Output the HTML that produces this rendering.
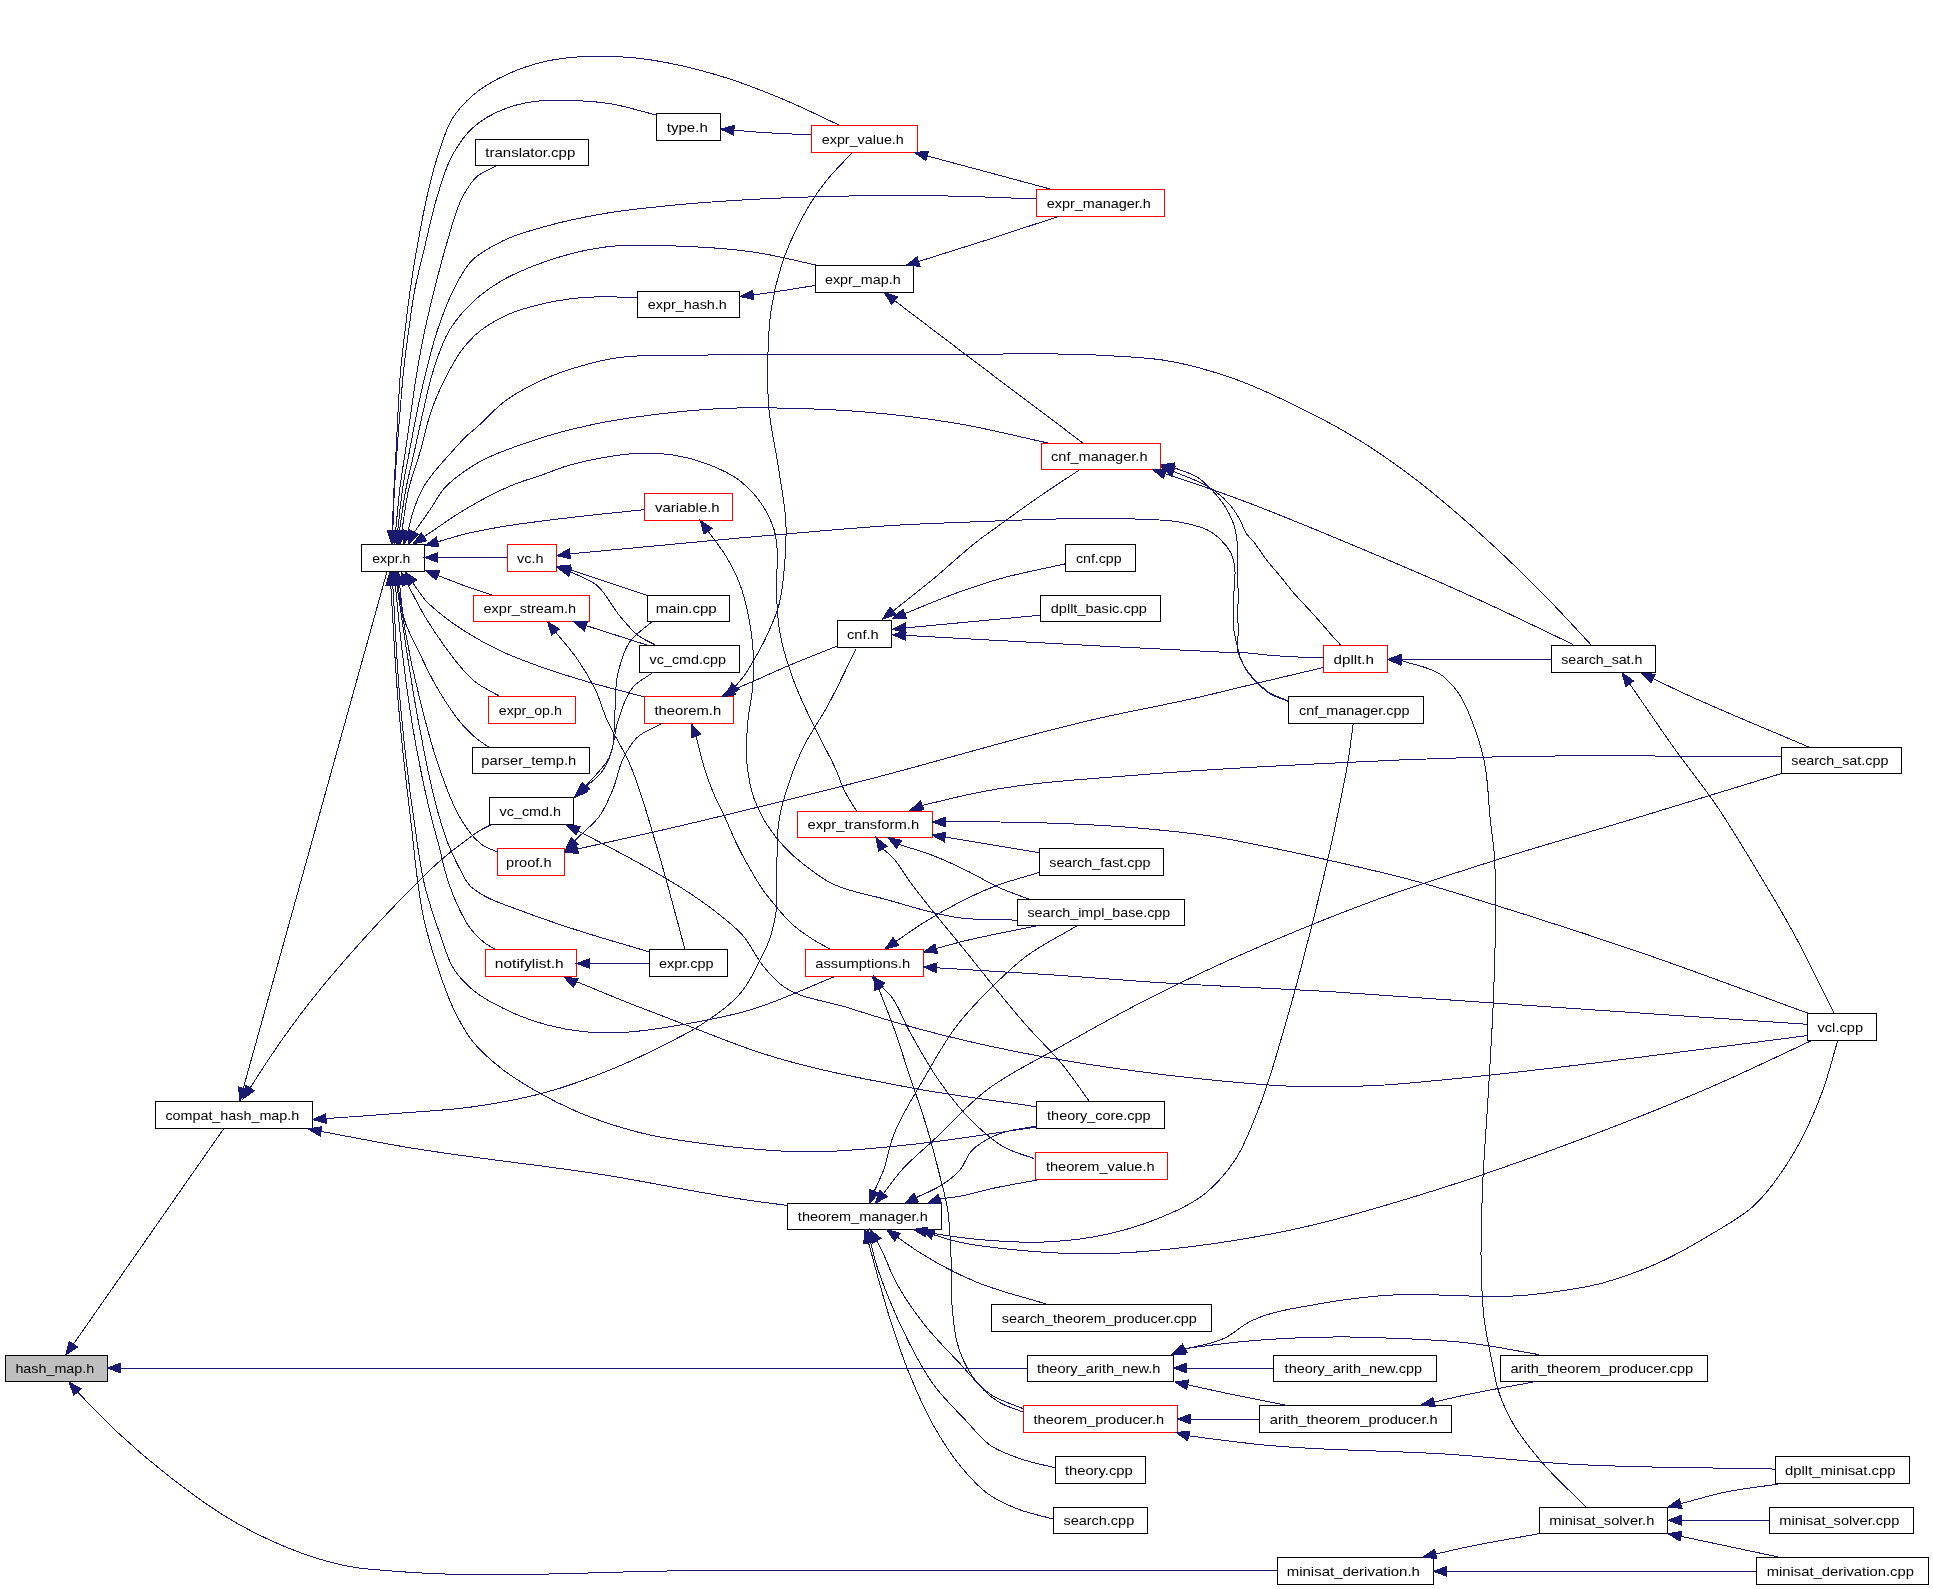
<!DOCTYPE html><html><head><meta charset="utf-8"><style>html,body{margin:0;padding:0;background:#fff;}svg{display:block;}text{font-family:"Liberation Sans",sans-serif;font-size:13px;fill:#000;}</style></head><body>
<svg width="1933" height="1589" viewBox="0 0 1933 1589">
<rect x="0" y="0" width="1933" height="1589" fill="#fff"/>
<rect x="5.5" y="1355.5" width="102" height="26" fill="#bfbfbf" stroke="#000" stroke-width="1"/>
<rect x="155.5" y="1101.5" width="157" height="27" fill="#fff" stroke="#000" stroke-width="1"/>
<rect x="361.5" y="544.5" width="63" height="27" fill="#fff" stroke="#000" stroke-width="1"/>
<rect x="475.5" y="139.5" width="113" height="26" fill="#fff" stroke="#000" stroke-width="1"/>
<rect x="656.5" y="113.5" width="64" height="27" fill="#fff" stroke="#000" stroke-width="1"/>
<rect x="811.5" y="125.5" width="106" height="27" fill="#fff" stroke="#ff0000" stroke-width="1"/>
<rect x="1036.5" y="189.5" width="128" height="27" fill="#fff" stroke="#ff0000" stroke-width="1"/>
<rect x="815.5" y="265.5" width="98" height="27" fill="#fff" stroke="#000" stroke-width="1"/>
<rect x="637.5" y="291.5" width="102" height="26" fill="#fff" stroke="#000" stroke-width="1"/>
<rect x="1041.5" y="443.5" width="119" height="26" fill="#fff" stroke="#ff0000" stroke-width="1"/>
<rect x="644.5" y="493.5" width="88" height="27" fill="#fff" stroke="#ff0000" stroke-width="1"/>
<rect x="507.5" y="544.5" width="49" height="27" fill="#fff" stroke="#ff0000" stroke-width="1"/>
<rect x="473.5" y="595.5" width="116" height="26" fill="#fff" stroke="#ff0000" stroke-width="1"/>
<rect x="647.5" y="595.5" width="82" height="26" fill="#fff" stroke="#000" stroke-width="1"/>
<rect x="1065.5" y="544.5" width="70" height="27" fill="#fff" stroke="#000" stroke-width="1"/>
<rect x="1040.5" y="595.5" width="120" height="26" fill="#fff" stroke="#000" stroke-width="1"/>
<rect x="837.5" y="620.5" width="54" height="27" fill="#fff" stroke="#000" stroke-width="1"/>
<rect x="639.5" y="645.5" width="100" height="27" fill="#fff" stroke="#000" stroke-width="1"/>
<rect x="1323.5" y="645.5" width="64" height="27" fill="#fff" stroke="#ff0000" stroke-width="1"/>
<rect x="1551.5" y="645.5" width="104" height="27" fill="#fff" stroke="#000" stroke-width="1"/>
<rect x="644.5" y="696.5" width="89" height="27" fill="#fff" stroke="#ff0000" stroke-width="1"/>
<rect x="488.5" y="696.5" width="87" height="27" fill="#fff" stroke="#ff0000" stroke-width="1"/>
<rect x="1288.5" y="696.5" width="135" height="27" fill="#fff" stroke="#000" stroke-width="1"/>
<rect x="472.5" y="747.5" width="117" height="26" fill="#fff" stroke="#000" stroke-width="1"/>
<rect x="1781.5" y="747.5" width="120" height="26" fill="#fff" stroke="#000" stroke-width="1"/>
<rect x="489.5" y="797.5" width="84" height="27" fill="#fff" stroke="#000" stroke-width="1"/>
<rect x="797.5" y="811.5" width="135" height="26" fill="#fff" stroke="#ff0000" stroke-width="1"/>
<rect x="497.5" y="848.5" width="67" height="27" fill="#fff" stroke="#ff0000" stroke-width="1"/>
<rect x="1039.5" y="848.5" width="124" height="27" fill="#fff" stroke="#000" stroke-width="1"/>
<rect x="1017.5" y="899.5" width="167" height="26" fill="#fff" stroke="#000" stroke-width="1"/>
<rect x="485.5" y="949.5" width="91" height="27" fill="#fff" stroke="#ff0000" stroke-width="1"/>
<rect x="649.5" y="949.5" width="78" height="27" fill="#fff" stroke="#000" stroke-width="1"/>
<rect x="805.5" y="949.5" width="118" height="27" fill="#fff" stroke="#ff0000" stroke-width="1"/>
<rect x="1807.5" y="1013.5" width="69" height="27" fill="#fff" stroke="#000" stroke-width="1"/>
<rect x="1036.5" y="1101.5" width="128" height="27" fill="#fff" stroke="#000" stroke-width="1"/>
<rect x="1035.5" y="1152.5" width="132" height="27" fill="#fff" stroke="#ff0000" stroke-width="1"/>
<rect x="787.5" y="1203.5" width="154" height="26" fill="#fff" stroke="#000" stroke-width="1"/>
<rect x="991.5" y="1304.5" width="220" height="27" fill="#fff" stroke="#000" stroke-width="1"/>
<rect x="1027.5" y="1355.5" width="146" height="26" fill="#fff" stroke="#000" stroke-width="1"/>
<rect x="1273.5" y="1355.5" width="163" height="26" fill="#fff" stroke="#000" stroke-width="1"/>
<rect x="1500.5" y="1355.5" width="207" height="26" fill="#fff" stroke="#000" stroke-width="1"/>
<rect x="1023.5" y="1405.5" width="154" height="27" fill="#fff" stroke="#ff0000" stroke-width="1"/>
<rect x="1259.5" y="1405.5" width="192" height="27" fill="#fff" stroke="#000" stroke-width="1"/>
<rect x="1055.5" y="1456.5" width="90" height="27" fill="#fff" stroke="#000" stroke-width="1"/>
<rect x="1775.5" y="1456.5" width="134" height="27" fill="#fff" stroke="#000" stroke-width="1"/>
<rect x="1053.5" y="1507.5" width="94" height="26" fill="#fff" stroke="#000" stroke-width="1"/>
<rect x="1539.5" y="1507.5" width="128" height="26" fill="#fff" stroke="#000" stroke-width="1"/>
<rect x="1769.5" y="1507.5" width="144" height="26" fill="#fff" stroke="#000" stroke-width="1"/>
<rect x="1277.5" y="1557.5" width="156" height="27" fill="#fff" stroke="#000" stroke-width="1"/>
<rect x="1756.5" y="1557.5" width="172" height="27" fill="#fff" stroke="#000" stroke-width="1"/>
<path fill="none" stroke="#191970" stroke-width="1" shape-rendering="crispEdges" d="M223.5,1129.0 L73.4,1344.2 M1027.0,1368.0 C968.7,1368.0 910.3,1368.0 852.0,1368.0 C701.3,1368.0 550.7,1368.0 400.0,1368.0 C306.9,1368.0 213.8,1368.0 120.7,1368.0 M1277.0,1571.0 C1084.7,1570.9 892.3,1570.7 700.0,1570.7 C596.1,1570.7 491.7,1580.0 388.2,1570.7 C376.8,1569.7 365.3,1569.2 354.1,1567.3 C340.2,1565.0 326.5,1561.4 313.1,1557.1 C301.5,1553.4 290.2,1548.9 279.0,1544.1 C263.8,1537.6 248.9,1530.1 234.6,1521.9 C210.5,1508.2 188.1,1491.2 166.3,1474.1 C149.8,1461.2 133.8,1447.5 118.5,1433.2 C104.3,1420.0 91.2,1405.8 77.5,1392.1 M386.9,572.0 L243.3,1088.3 M492.6,824.1 C488.8,826.0 484.8,827.7 481.1,829.8 C475.3,833.1 470.1,837.3 464.7,841.3 C456.9,847.0 449.2,853.0 441.8,859.3 C429.8,869.5 418.9,881.1 407.7,892.3 C389.9,910.2 372.6,928.8 355.8,947.7 C337.9,967.9 320.2,988.5 303.8,1010.0 C291.8,1025.7 280.2,1041.9 269.2,1058.4 C262.7,1068.1 256.5,1078.1 250.2,1087.9 M855.8,649.4 C846.2,668.5 837.4,688.1 827.1,706.8 C819.5,720.6 810.0,733.4 803.2,747.5 C797.6,759.1 792.8,771.1 788.8,783.3 C784.9,795.0 781.3,807.1 779.2,819.2 C776.5,834.9 777.4,851.1 776.8,867.1 C776.2,883.0 778.2,899.3 775.6,914.9 C774.2,923.0 772.4,931.2 769.7,938.9 C767.2,946.2 763.6,953.2 760.1,960.1 C754.9,970.4 749.9,981.2 742.9,990.2 C732.2,1004.0 716.6,1014.5 701.9,1024.3 C690.1,1032.2 677.0,1038.3 664.3,1044.8 C647.5,1053.4 630.5,1061.5 613.1,1068.7 C590.8,1077.9 568.0,1086.3 544.8,1092.6 C522.5,1098.7 499.5,1102.9 476.6,1106.3 C450.4,1110.2 423.8,1111.3 397.3,1113.4 C373.6,1115.3 349.8,1116.9 326.1,1118.6 M787.3,1205.4 C778.2,1204.2 769.1,1203.1 760.0,1201.9 C708.0,1194.9 656.6,1183.3 604.8,1175.0 C536.7,1164.2 467.9,1157.9 400.0,1146.1 C373.6,1141.5 347.3,1136.3 321.0,1131.4 M838.5,124.8 C821.3,116.8 804.3,108.2 786.8,100.8 C764.0,91.2 740.7,81.9 717.0,75.0 C689.2,66.9 660.5,60.1 631.6,57.6 C617.9,56.4 604.0,55.8 590.2,56.3 C575.5,56.9 560.5,58.0 546.2,61.2 C533.4,64.1 520.6,68.2 508.7,73.6 C495.9,79.4 483.0,86.4 472.5,95.6 C465.2,102.0 458.3,109.5 453.0,117.6 C445.5,129.1 441.9,143.2 437.6,156.4 C433.4,169.1 430.3,182.2 427.3,195.2 C424.3,208.0 421.9,221.0 419.5,234.0 C416.0,252.6 412.9,271.3 410.2,290.0 C408.3,303.4 406.7,316.9 405.1,330.3 C403.5,343.7 401.8,357.1 400.6,370.5 C399.4,383.9 398.9,397.4 398.1,410.8 C397.4,423.9 396.8,436.9 396.1,450.0 C395.4,462.7 394.6,475.3 394.0,488.0 C393.3,502.3 392.8,516.5 392.3,530.8 M656.2,115.0 C640.2,111.1 624.5,105.8 608.3,103.4 C596.4,101.6 584.2,100.9 572.1,100.5 C562.6,100.2 553.1,99.7 543.7,100.5 C531.5,101.6 518.8,103.6 507.4,107.8 C495.0,112.4 482.2,119.0 472.5,128.0 C464.8,135.2 458.4,144.6 453.1,153.8 C445.8,166.4 442.0,181.2 437.6,195.2 C432.2,212.1 428.9,229.7 424.7,247.0 C421.3,261.3 417.4,275.6 414.7,290.0 C412.2,303.3 410.6,316.8 408.7,330.3 C406.9,343.7 405.0,357.1 403.6,370.5 C402.2,383.9 401.2,397.4 400.1,410.8 C399.0,423.9 398.0,436.9 397.1,450.0 C396.2,462.7 395.2,475.3 394.5,488.0 C393.7,502.3 393.4,516.5 392.8,530.8 M495.8,166.0 C489.3,169.7 481.8,172.1 476.4,177.0 C471.0,181.9 467.2,188.8 463.5,195.2 C455.7,208.5 452.6,224.4 448.0,239.2 C442.8,255.9 438.6,273.0 434.3,290.0 C430.9,303.4 427.7,316.8 424.8,330.3 C422.0,343.6 419.5,357.1 417.2,370.5 C414.9,383.9 413.2,397.4 411.2,410.8 C409.3,423.9 407.5,436.9 405.6,450.0 C403.7,462.7 401.5,475.3 399.9,488.0 C398.1,502.2 397.1,516.6 395.7,530.9 M1036.3,199.0 C1010.6,198.1 984.9,196.8 959.2,196.2 C918.7,195.3 878.1,195.3 837.6,196.2 C811.7,196.8 785.8,197.6 760.0,199.0 C730.1,200.6 700.2,202.5 670.4,205.5 C648.8,207.7 627.1,209.7 605.7,213.3 C585.7,216.7 565.7,220.7 546.2,226.2 C531.8,230.3 516.9,234.0 503.6,240.5 C492.2,246.1 479.8,252.2 471.2,261.2 C463.6,269.1 458.6,280.0 453.5,290.0 C446.9,302.8 442.0,316.6 437.4,330.3 C433.0,343.5 429.7,357.0 426.3,370.5 C423.0,383.9 420.0,397.3 417.2,410.8 C414.5,423.8 412.2,436.9 409.7,450.0 C407.3,462.7 404.6,475.3 402.7,488.0 C400.5,502.2 399.4,516.6 397.7,530.9 M815.6,265.0 C797.1,261.0 778.7,256.1 760.0,253.1 C727.1,247.7 693.4,246.3 660.0,245.6 C646.2,245.3 632.4,244.5 618.7,245.6 C603.1,246.8 587.3,249.6 572.1,253.4 C559.8,256.5 547.7,260.4 535.9,265.0 C523.5,269.8 511.0,275.0 499.7,281.9 C491.0,287.2 482.5,293.2 475.0,300.0 C465.3,308.8 456.2,319.2 449.4,330.3 C442.0,342.5 437.7,356.8 433.3,370.5 C429.1,383.6 426.4,397.3 423.3,410.8 C420.3,423.8 417.6,436.9 414.7,450.0 C411.9,462.7 408.6,475.3 406.1,488.0 C403.4,502.2 401.6,516.6 399.4,530.9 M637.3,297.2 C618.2,297.4 598.9,295.9 579.9,297.8 C566.9,299.1 553.7,301.1 541.0,304.2 C528.7,307.2 516.2,310.5 504.9,315.9 C494.3,321.0 483.7,327.3 475.0,335.3 C470.1,339.8 465.5,345.0 461.5,350.4 C456.8,356.6 453.1,363.6 449.4,370.5 C442.3,383.4 436.2,397.0 431.3,410.8 C426.8,423.5 424.5,437.0 420.7,450.0 C417.0,462.7 412.1,475.1 409.0,488.0 C405.6,502.1 404.2,516.6 401.9,530.9 M1590.8,644.6 C1576.9,629.7 1563.2,614.6 1549.0,600.0 C1520.5,570.8 1490.9,542.5 1460.0,515.9 C1444.5,502.6 1429.0,489.4 1412.7,477.1 C1395.1,463.8 1377.0,451.1 1358.3,439.6 C1338.3,427.3 1317.4,416.3 1296.3,406.0 C1276.0,396.1 1255.5,386.3 1234.2,378.8 C1212.4,371.1 1189.7,364.6 1166.9,360.7 C1146.5,357.2 1125.6,356.8 1104.9,355.5 C1056.7,352.5 1008.3,354.4 960.0,354.2 C893.3,353.9 826.7,354.4 760.0,354.8 C738.8,354.9 717.5,354.7 696.3,355.2 C666.1,355.9 635.2,353.7 605.7,359.8 C597.0,361.6 588.4,363.8 579.9,366.3 C566.7,370.2 553.5,374.7 541.0,380.5 C528.5,386.3 516.0,393.0 504.9,401.2 C494.0,409.2 485.4,420.1 475.0,428.9 C472.6,431.0 470.0,432.9 467.6,435.0 C462.5,439.6 458.1,444.9 453.5,450.0 C442.6,462.2 430.5,474.1 422.8,488.4 C419.3,495.0 416.3,502.1 413.8,509.2 C411.3,516.4 409.8,524.0 407.8,531.4 M1048.0,443.0 C1018.7,436.7 989.5,429.1 960.0,424.0 C926.9,418.3 893.5,414.2 860.0,411.6 C839.9,410.0 819.8,409.1 799.7,408.5 C773.9,407.8 747.9,407.3 722.1,408.5 C700.5,409.5 678.9,411.6 657.5,414.2 C635.8,416.9 614.1,419.9 592.8,424.5 C571.9,429.0 550.9,434.2 530.7,441.3 C509.4,448.7 487.1,455.9 468.6,468.5 C460.0,474.4 451.0,480.6 444.2,488.4 C438.8,494.6 435.1,502.3 430.4,509.2 C425.1,516.9 419.7,524.5 414.3,532.2 M856.7,811.4 C852.5,804.3 847.7,797.4 844.1,790.0 C841.2,784.0 839.3,777.5 836.7,771.4 C830.4,756.6 821.9,742.8 815.0,728.3 C807.5,712.5 799.6,696.9 793.6,680.5 C788.2,665.7 783.2,650.4 780.3,634.9 C776.9,616.6 776.3,597.7 776.5,579.0 C776.6,571.6 777.7,564.1 777.5,556.7 C777.2,547.3 776.6,537.6 773.8,528.7 C771.8,522.3 768.8,515.9 765.4,510.1 C758.9,498.8 749.6,488.2 739.3,480.3 C729.6,472.9 717.5,467.8 705.8,463.5 C695.6,459.7 684.8,456.8 674.1,455.1 C663.1,453.4 651.7,453.0 640.6,453.3 C627.5,453.6 614.4,455.6 601.5,457.9 C589.9,460.0 578.3,462.5 567.0,465.9 C557.9,468.7 549.0,472.5 540.0,475.6 C531.8,478.5 523.3,480.8 515.2,484.0 C499.1,490.3 483.6,498.6 468.6,507.3 C453.2,516.2 438.9,526.9 424.0,536.7 M644.3,509.7 C627.1,511.5 610.0,513.1 592.8,515.0 C575.2,517.0 557.6,519.0 540.0,521.3 C530.0,522.6 520.0,523.8 510.0,525.4 C494.4,527.9 478.8,530.5 463.5,534.4 C454.8,536.6 446.3,539.4 437.7,541.8 M507.0,557.5 L437.8,557.5 M493.4,595.4 C484.4,592.4 475.3,589.6 466.4,586.4 C456.8,583.0 447.4,579.1 437.8,575.5 M644.0,696.8 C624.6,691.6 605.1,687.0 585.9,681.3 C570.5,676.7 555.1,672.1 540.0,666.6 C526.2,661.6 512.3,656.5 499.1,650.2 C487.9,644.8 476.9,638.8 466.4,632.2 C459.1,627.6 451.9,622.8 445.1,617.5 C438.3,612.2 431.3,606.7 425.5,600.3 C420.7,594.9 417.0,588.6 412.7,582.7 M499.9,696.4 C491.5,691.4 482.1,687.6 474.6,681.3 C470.5,677.8 466.8,673.8 463.1,669.8 C456.5,662.7 450.8,654.7 445.1,646.9 C438.2,637.4 431.6,627.6 425.5,617.5 C418.9,606.5 413.3,594.9 407.3,583.6 M488.5,747.1 C483.9,743.7 478.9,740.6 474.6,736.9 C470.5,733.4 466.7,729.5 463.1,725.5 C456.3,718.0 450.6,709.4 445.1,700.9 C441.7,695.6 438.4,690.1 435.3,684.6 C429.3,674.0 424.1,662.8 418.9,651.8 C413.8,641.0 407.4,630.5 404.2,619.1 C401.1,608.2 401.2,596.4 399.7,585.1 M497.5,851.9 C493.1,850.0 488.4,848.7 484.4,846.2 C480.8,844.0 477.6,841.0 474.6,838.0 C469.4,832.8 465.5,826.2 461.5,820.0 C451.8,804.8 446.2,787.0 440.0,770.0 C431.7,747.3 425.9,723.5 420.0,700.0 C414.2,676.9 409.2,653.5 405.0,630.0 C402.3,615.1 400.3,600.0 398.0,585.0 M495.0,949.3 C491.5,947.1 487.7,945.2 484.4,942.7 C479.5,939.0 475.1,934.4 471.3,929.7 C465.8,922.9 462.0,914.6 458.2,906.7 C454.4,898.8 451.2,890.5 448.4,882.2 C444.2,869.9 441.9,857.0 438.6,844.5 C436.4,836.3 434.1,828.2 432.0,820.0 C425.2,793.6 419.8,766.8 415.0,740.0 C409.6,710.2 405.6,680.1 402.0,650.0 C399.4,628.4 397.6,606.8 395.3,585.1 M648.9,951.8 C623.5,944.1 598.0,937.1 572.8,928.8 C556.3,923.4 539.8,918.0 523.7,911.7 C508.2,905.7 491.4,901.5 477.8,892.0 C475.6,890.4 473.3,888.9 471.3,887.1 C465.2,881.6 462.1,873.1 458.2,865.8 C454.5,858.9 451.3,851.7 448.4,844.5 C445.2,836.5 442.7,828.2 440.2,820.0 C431.1,790.7 425.9,760.2 420.0,730.0 C414.2,700.2 409.6,670.1 405.0,640.0 C402.2,621.7 399.6,603.4 396.9,585.1 M835.3,976.4 C806.3,987.8 778.1,1002.0 748.2,1010.5 C729.2,1015.9 709.7,1019.7 690.2,1023.2 C667.6,1027.3 644.8,1031.6 621.9,1032.4 C609.4,1032.8 596.8,1032.9 584.4,1031.7 C571.8,1030.5 559.1,1028.2 546.8,1024.9 C534.0,1021.5 521.3,1016.8 509.3,1011.2 C496.2,1005.1 482.5,998.5 471.7,989.0 C465.4,983.5 459.3,977.1 454.6,970.2 C447.5,959.8 444.6,946.6 440.2,934.6 C434.7,919.5 429.5,904.2 425.5,888.7 C419.7,866.3 417.4,843.0 414.0,820.0 C408.1,780.2 403.6,740.1 400.0,700.0 C396.6,661.8 395.2,623.4 392.8,585.2 M1036.7,1127.0 C995.2,1132.8 953.8,1140.1 912.1,1144.4 C878.1,1147.9 843.8,1152.0 809.7,1151.9 C781.2,1151.8 752.6,1149.3 724.3,1146.1 C695.7,1142.8 666.8,1139.6 639.0,1132.4 C618.1,1127.0 597.3,1120.4 577.5,1111.9 C563.5,1105.9 549.8,1099.0 536.6,1091.4 C524.9,1084.6 513.0,1077.6 502.4,1069.3 C491.3,1060.6 480.2,1051.3 471.7,1040.2 C464.9,1031.4 459.6,1021.2 454.6,1011.2 C449.2,1000.3 445.1,988.6 441.0,977.1 C435.0,960.5 429.8,943.5 425.5,926.4 C416.9,891.8 415.1,855.5 410.7,820.0 C405.8,780.1 401.4,740.1 398.0,700.0 C394.8,661.8 393.2,623.4 390.8,585.2 M811.2,134.9 C794.1,134.0 777.0,133.5 760.0,132.3 C751.3,131.7 742.6,130.9 734.0,130.2 M1051.0,189.2 L927.1,155.9 M1058.8,216.4 C1035.1,224.2 1011.4,232.1 987.6,239.7 C964.6,247.1 941.6,254.2 918.6,261.5 M815.1,285.5 C796.7,288.3 778.4,291.6 760.0,294.0 C757.8,294.3 755.5,294.6 753.3,294.8 M1083.6,443.5 C1042.4,412.4 1001.1,381.5 960.0,350.3 C938.2,333.8 916.5,317.2 894.7,300.7 M852.3,152.5 C843.1,162.6 833.0,172.0 824.7,182.8 C813.6,197.1 804.1,213.0 796.2,229.3 C790.1,241.8 784.8,254.8 780.7,268.1 C776.7,280.7 773.7,293.8 771.6,306.9 C768.7,324.4 768.2,342.3 767.8,360.0 C767.4,375.4 767.5,391.0 768.7,406.4 C770.4,428.1 775.9,449.4 779.0,471.0 C781.5,488.3 785.2,505.6 785.9,523.1 C786.4,535.5 785.8,548.0 784.9,560.4 C783.7,576.0 782.7,592.0 778.4,606.9 C775.2,617.8 770.3,628.3 765.4,638.6 C761.1,647.6 756.2,656.4 751.0,665.0 C748.8,668.5 746.7,672.1 744.3,675.5 C741.6,679.3 738.4,682.7 735.4,686.3 M1288.4,700.9 C1281.6,697.9 1274.0,696.0 1268.0,691.8 C1263.9,688.9 1260.3,685.2 1256.7,681.6 C1253.5,678.4 1250.2,675.1 1247.6,671.4 C1244.9,667.6 1242.5,663.4 1240.8,659.0 C1239.8,656.4 1239.2,653.7 1238.5,651.0 C1237.7,648.0 1237.0,645.0 1236.3,642.0 C1235.4,638.2 1234.6,634.4 1234.0,630.6 C1232.6,621.3 1233.1,611.7 1233.4,602.3 C1233.5,598.5 1233.8,594.8 1234.0,591.0 C1234.4,582.7 1235.9,574.2 1234.6,566.0 C1234.0,562.2 1233.2,558.2 1231.7,554.7 C1230.3,551.4 1228.1,548.4 1225.9,545.5 C1221.9,540.3 1216.8,535.6 1211.4,532.1 C1203.4,526.9 1193.0,525.0 1183.5,522.8 C1169.4,519.6 1154.5,519.9 1140.0,519.2 C1127.5,518.6 1114.9,518.6 1102.3,518.5 C1054.9,518.1 1007.4,520.6 960.0,522.4 C940.0,523.2 920.0,523.9 900.0,525.0 C860.6,527.2 821.4,531.0 782.1,534.3 C711.3,540.2 640.6,547.4 569.9,553.9 M647.5,595.4 L569.6,569.6 M655.5,645.1 C649.7,641.9 643.4,639.4 638.2,635.5 C631.2,630.3 625.9,622.9 620.1,616.3 C611.4,606.3 606.2,592.5 595.9,584.6 C588.5,578.9 578.8,576.0 570.3,571.8 M647.1,645.1 C625.1,638.3 562.4,617.6 581.0,624.6 C582.4,625.1 584.2,625.8 585.9,626.4 M684.8,949.0 C681.2,935.6 677.7,922.1 674.0,908.7 C667.9,886.2 662.0,863.7 655.2,841.4 C647.0,814.3 640.0,786.4 628.3,760.7 C622.0,746.8 613.1,734.0 607.0,720.0 C602.8,710.5 600.3,700.2 595.9,690.8 C590.7,679.8 584.3,669.1 577.3,659.1 C570.7,649.6 562.8,641.1 555.6,632.1 M1017.5,920.2 C998.3,919.4 978.9,920.3 960.0,917.9 C933.7,914.6 908.2,905.3 882.4,898.5 C868.2,894.7 853.6,892.3 840.0,886.9 C837.0,885.7 834.0,884.5 831.1,883.1 C822.9,879.1 815.6,873.5 808.4,868.0 C800.4,862.0 792.6,855.6 785.7,848.4 C779.0,841.4 772.8,833.8 767.6,825.7 C762.2,817.2 757.4,808.0 754.0,798.5 C750.3,787.9 748.4,776.5 747.2,765.3 C745.6,750.4 746.6,735.0 748.0,720.0 C748.9,710.2 751.4,700.6 752.3,690.8 C753.5,678.4 753.9,665.9 753.3,653.5 C752.7,641.1 751.1,628.5 748.6,616.3 C746.3,604.9 743.5,593.5 739.3,582.7 C735.8,573.7 731.3,565.0 726.3,556.7 C720.9,547.7 714.1,539.7 708.0,531.1 M1080.3,469.3 C1066.1,478.8 1051.7,488.1 1037.6,497.8 C1025.4,506.2 1013.4,515.0 1001.4,523.7 C993.9,529.1 986.3,534.4 979.0,540.0 C962.5,552.6 947.5,567.3 931.4,580.5 C918.8,590.8 905.9,600.8 893.1,611.0 M1065.4,563.8 C1042.9,569.0 1020.1,572.9 998.0,579.3 C983.6,583.5 969.3,588.4 955.2,593.5 C938.2,599.7 921.6,606.9 904.8,613.6 M1040.4,615.2 C1016.0,617.5 991.5,619.8 967.1,622.1 C946.6,624.0 926.1,626.0 905.6,627.9 M1323.5,657.8 C1312.6,657.4 1301.6,657.3 1290.7,656.7 C1285.0,656.4 1279.4,656.0 1273.7,655.6 C1263.5,654.8 1253.3,653.2 1243.0,652.7 C1236.2,652.3 1229.5,652.5 1222.7,652.2 C1215.1,651.9 1207.6,651.4 1200.0,651.0 C1166.0,649.2 1132.0,647.7 1098.0,645.9 C1033.9,642.6 969.8,638.9 905.7,635.4 M837.4,646.0 C819.0,653.5 800.3,660.5 782.1,668.4 C772.9,672.4 763.9,676.7 754.7,680.7 C749.5,683.0 744.1,684.9 739.0,687.5 C737.2,688.4 735.4,689.4 733.7,690.3 M829.5,948.9 C823.0,945.1 816.2,941.7 809.9,937.5 C803.6,933.3 797.4,929.0 791.8,923.9 C786.3,918.9 781.5,913.0 776.7,907.3 C772.5,902.4 768.4,897.4 764.6,892.2 C759.0,884.5 754.2,876.2 749.5,868.0 C745.2,860.6 741.2,853.1 737.4,845.4 C733.0,836.5 729.4,827.2 725.3,818.2 C721.4,809.6 716.8,801.2 713.2,792.5 C709.1,782.7 705.7,772.5 702.7,762.3 C700.1,753.7 698.3,744.8 696.1,736.1 M651.8,621.8 C644.3,628.6 635.0,634.2 629.4,642.3 C623.6,650.8 620.8,661.9 618.2,672.1 C614.3,687.5 615.8,704.0 614.5,720.0 C613.7,730.0 614.7,740.5 612.0,750.0 C609.9,757.4 606.6,765.0 602.2,771.3 C597.5,778.0 590.1,782.7 584.0,788.4 M653.6,672.1 C646.8,677.1 638.6,680.9 633.1,687.0 C625.3,695.7 622.2,708.7 618.2,720.0 C613.9,732.3 614.7,746.8 608.8,758.2 C603.5,768.5 593.7,776.5 586.1,785.7 M662.6,723.2 C654.1,728.0 643.8,731.0 637.0,737.6 C631.3,743.1 627.1,750.8 623.4,758.0 C618.5,767.5 617.3,778.8 613.1,788.8 C609.2,798.2 605.4,808.0 599.5,816.1 C593.9,823.8 585.9,829.8 579.0,836.6 C577.6,838.0 576.1,839.5 574.7,840.9 M1323.5,667.5 C1301.2,672.8 1279.0,678.0 1256.7,683.3 C1237.8,687.8 1218.9,692.6 1200.0,697.0 C1166.1,704.8 1131.9,710.8 1098.0,718.5 C1018.0,736.6 939.5,761.4 860.0,781.6 C793.5,798.5 726.9,815.2 660.0,830.6 C632.5,836.9 605.0,842.9 577.5,849.0 M1807.3,1035.6 C1739.2,1044.4 1671.2,1053.8 1603.1,1062.0 C1552.8,1068.0 1502.5,1074.2 1452.0,1079.0 C1426.9,1081.4 1401.7,1084.2 1376.5,1085.5 C1348.4,1086.9 1320.2,1087.3 1292.1,1086.3 C1263.6,1085.3 1235.2,1082.3 1206.8,1079.5 C1178.3,1076.6 1149.8,1073.2 1121.4,1069.2 C1087.1,1064.4 1052.9,1059.0 1019.0,1052.2 C984.6,1045.4 950.4,1037.5 916.6,1028.3 C893.7,1022.0 870.9,1015.1 848.3,1007.8 C825.4,1000.4 798.1,999.0 780.0,983.9 C773.9,978.8 768.5,972.5 763.4,966.3 C755.6,956.8 751.0,944.8 742.9,935.6 C735.0,926.6 725.1,919.2 715.6,911.7 C704.7,903.1 693.1,895.3 681.4,887.8 C668.1,879.3 654.2,871.6 640.4,863.9 C619.9,852.4 598.8,841.8 578.0,830.8 M648.9,963.5 L589.9,963.5 M1036.7,1106.8 C995.2,1100.5 953.4,1095.7 912.1,1088.0 C860.5,1078.3 808.4,1068.6 758.5,1052.2 C735.4,1044.6 712.9,1035.2 690.2,1026.6 C670.8,1019.3 651.5,1011.8 632.2,1004.4 C611.7,996.5 554.4,971.7 570.7,980.5 C572.1,981.2 574.0,982.2 575.7,983.1 M1551.0,659.2 L1401.3,659.2 M1586.0,1506.7 C1572.3,1493.0 1557.5,1480.2 1544.8,1465.5 C1533.1,1452.0 1521.1,1438.1 1512.5,1422.5 C1506.8,1412.3 1501.7,1401.4 1498.2,1390.2 C1495.1,1380.4 1493.7,1370.1 1491.7,1360.0 C1488.9,1346.3 1485.8,1332.6 1484.1,1318.8 C1482.6,1306.3 1482.1,1293.6 1481.5,1281.0 C1480.2,1252.1 1481.3,1223.1 1482.3,1194.2 C1483.3,1162.7 1486.1,1131.3 1487.9,1099.8 C1489.9,1064.6 1492.3,1029.4 1493.6,994.1 C1494.6,966.4 1495.6,938.7 1495.5,911.0 C1495.4,892.1 1495.8,873.2 1494.3,854.4 C1493.4,842.9 1491.6,831.5 1490.3,820.0 C1488.1,800.3 1488.4,780.1 1484.1,760.8 C1481.9,751.0 1479.3,741.2 1475.9,731.8 C1470.2,715.9 1464.2,698.9 1453.1,686.2 C1449.9,682.6 1446.4,678.9 1442.7,675.9 C1431.4,666.8 1415.0,665.6 1401.2,660.4 M1808.4,746.9 C1764.9,728.1 1720.7,710.7 1677.8,690.5 C1669.6,686.6 1661.4,682.6 1653.2,678.7 M1834.1,1013.0 C1820.0,985.3 1806.8,957.1 1791.8,929.9 C1779.8,908.2 1767.0,886.9 1754.1,865.7 C1741.8,845.4 1729.7,824.9 1716.3,805.3 C1704.1,787.5 1690.4,770.7 1677.8,753.2 C1661.4,730.4 1645.7,707.0 1629.6,683.8 M1781.2,756.7 C1688.7,756.7 1596.2,754.6 1503.7,756.7 C1468.9,757.5 1434.0,758.6 1399.2,760.0 C1372.8,761.1 1346.4,762.3 1320.0,763.7 C1261.8,766.7 1203.6,769.5 1145.6,774.4 C1090.0,779.1 1033.7,781.5 979.0,792.3 C960.0,796.1 941.1,801.0 922.2,805.4 M1782.4,773.2 C1735.2,787.7 1688.0,802.3 1640.8,816.6 C1590.5,831.9 1539.9,846.0 1489.8,862.0 C1451.9,874.1 1413.9,886.0 1376.5,899.7 C1338.3,913.7 1300.6,928.9 1263.3,945.0 C1225.1,961.5 1187.1,979.0 1150.0,997.9 C1119.6,1013.4 1089.7,1030.1 1060.0,1047.0 C1035.5,1060.9 1009.5,1072.8 987.2,1089.7 C967.4,1104.7 950.8,1123.9 932.6,1141.0 C922.3,1150.7 911.1,1159.5 901.8,1170.0 C895.3,1177.4 889.6,1185.6 883.6,1193.4 M1573.4,644.6 C1542.1,629.7 1510.9,614.4 1479.4,600.0 C1433.4,579.0 1386.8,559.2 1340.0,539.8 C1308.0,526.5 1276.0,513.1 1243.5,501.0 C1233.2,497.1 1222.8,493.4 1212.4,489.7 C1196.7,484.2 1180.8,479.0 1165.0,473.7 M1341.0,645.4 C1338.6,642.8 1336.1,640.2 1333.7,637.5 C1328.3,631.5 1323.2,625.3 1317.8,619.3 C1314.1,615.1 1310.3,611.0 1306.5,606.9 C1302.3,602.4 1298.0,597.9 1294.0,593.3 C1288.9,587.4 1284.3,581.1 1279.3,575.1 C1275.2,570.2 1270.9,565.4 1266.9,560.4 C1261.7,553.8 1257.7,546.3 1252.1,540.0 C1250.6,538.4 1249.0,536.9 1247.6,535.2 C1243.8,530.4 1242.4,523.9 1239.3,518.6 C1236.8,514.3 1234.1,510.0 1231.0,506.2 C1226.3,500.4 1220.6,495.0 1214.5,490.7 C1210.6,488.0 1206.3,485.7 1202.0,483.5 C1192.9,478.7 1182.9,475.5 1173.4,471.5 M1288.4,701.5 C1281.6,698.5 1274.0,696.7 1268.0,692.5 C1263.9,689.6 1260.3,685.9 1256.7,682.3 C1253.5,679.0 1250.2,675.7 1247.6,672.0 C1245.0,668.3 1242.8,664.2 1241.0,660.0 C1239.5,656.4 1238.0,652.6 1237.4,648.8 C1236.4,642.9 1238.5,636.7 1238.5,630.6 C1238.5,625.0 1237.4,619.3 1237.4,613.7 C1237.4,608.0 1238.5,602.4 1238.5,596.7 C1238.5,591.0 1237.6,585.4 1237.4,579.7 C1237.2,573.1 1237.3,566.6 1237.3,560.0 C1237.3,554.5 1237.8,549.0 1237.3,543.5 C1236.8,537.6 1235.9,531.5 1234.2,525.9 C1232.1,519.0 1228.6,512.3 1224.8,506.2 C1219.8,498.2 1213.2,491.0 1206.2,484.5 C1203.9,482.3 1201.5,480.2 1199.0,478.3 C1191.7,473.0 1182.3,471.2 1173.9,467.6 M1353.3,723.3 C1351.6,735.5 1350.2,747.8 1348.2,760.0 C1345.0,780.1 1340.7,800.1 1336.5,820.0 C1329.3,854.3 1321.1,888.4 1312.6,922.4 C1304.0,956.7 1295.3,990.9 1285.3,1024.8 C1276.8,1053.5 1269.3,1082.6 1258.0,1110.2 C1250.9,1127.6 1244.7,1146.1 1234.1,1161.4 C1226.4,1172.6 1217.1,1183.5 1206.8,1192.2 C1192.2,1204.4 1173.4,1212.3 1155.6,1219.5 C1139.1,1226.2 1121.7,1231.1 1104.3,1234.8 C1087.5,1238.4 1070.2,1240.5 1053.1,1241.6 C1030.4,1243.1 1007.5,1241.9 984.8,1240.0 C967.9,1238.6 950.9,1236.6 934.2,1233.5 C931.6,1233.0 929.0,1232.5 926.5,1232.0 M1808.0,1013.2 C1752.3,993.0 1696.9,971.8 1640.8,952.6 C1590.7,935.4 1540.4,919.1 1489.8,903.5 C1464.7,895.7 1439.6,887.7 1414.3,880.8 C1383.1,872.3 1351.5,865.3 1319.9,858.2 C1301.1,854.0 1282.2,849.9 1263.3,846.1 C1244.4,842.3 1225.6,838.3 1206.6,835.5 C1187.8,832.7 1168.9,830.9 1150.0,829.1 C1100.2,824.4 1050.0,822.6 1000.0,822.0 C981.9,821.8 963.8,822.0 945.7,822.0 M1039.3,852.7 C1012.9,848.3 986.5,843.8 960.0,839.5 C955.0,838.7 950.0,837.9 945.0,837.1 M1029.2,899.2 C1019.5,895.5 1009.5,892.2 1000.0,888.0 C989.0,883.1 978.7,876.5 967.8,871.2 C956.6,865.7 945.2,860.3 933.6,855.8 C922.4,851.4 910.7,848.2 899.2,844.5 M1089.0,1101.0 C1080.5,1089.3 1072.5,1077.1 1063.4,1065.8 C1051.8,1051.4 1038.0,1038.8 1025.8,1024.8 C1014.1,1011.4 1002.9,997.7 991.7,983.9 C982.5,972.6 973.6,961.0 964.4,949.7 C954.2,937.1 943.7,924.8 933.6,912.2 C925.5,902.1 917.4,891.9 909.7,881.5 C903.9,873.6 899.5,864.6 892.7,857.6 C889.7,854.5 886.2,851.7 882.9,848.8 M1039.3,872.4 C1024.2,877.1 1008.7,880.9 994.0,886.6 C982.4,891.1 971.1,896.4 960.0,902.0 C946.3,908.9 932.9,916.7 920.0,925.0 C911.8,930.3 903.9,936.0 895.9,941.5 M1037.0,925.8 C1011.3,931.2 985.4,935.6 960.0,942.1 C952.1,944.1 944.2,946.4 936.2,948.5 M1077.0,925.8 C1059.9,936.1 1041.6,944.6 1025.8,956.6 C1013.7,965.8 1002.6,976.6 991.7,987.3 C979.7,999.2 967.8,1011.5 957.5,1024.8 C944.4,1041.7 934.1,1060.9 923.4,1079.5 C912.5,1098.4 900.1,1117.0 892.7,1137.5 C888.9,1148.0 887.5,1159.5 883.6,1170.0 C880.9,1177.2 877.4,1184.2 874.3,1191.2 M1807.3,1024.3 C1714.1,1018.0 1620.8,1011.8 1527.6,1005.4 C1464.7,1001.1 1401.8,996.1 1338.8,992.2 C1275.9,988.3 1212.9,986.2 1150.0,982.0 C1120.0,980.0 1090.0,977.5 1060.0,975.4 C1018.9,972.6 977.8,970.3 936.7,967.8 M1034.4,1158.7 C1024.7,1155.1 1014.3,1152.6 1005.3,1147.8 C992.6,1141.0 981.6,1130.6 971.2,1120.4 C959.7,1109.2 949.9,1096.0 940.5,1082.9 C928.9,1066.7 919.5,1049.0 909.7,1031.7 C902.7,1019.3 898.8,1004.6 889.3,994.1 C886.8,991.4 884.0,988.9 881.4,986.3 M1039.3,1179.6 C1022.7,1182.8 1006.0,1185.4 989.5,1189.1 C979.6,1191.3 969.9,1194.4 960.0,1196.2 C953.3,1197.4 946.5,1198.0 939.8,1198.9 M1036.7,1126.0 C1024.0,1128.7 1010.3,1129.1 998.5,1134.1 C988.8,1138.2 978.2,1143.4 971.2,1151.2 C966.5,1156.5 964.6,1164.5 960.0,1170.0 C954.8,1176.1 947.8,1181.0 941.0,1185.4 C933.4,1190.4 924.6,1193.5 916.4,1197.5 M1812.6,1040.1 C1780.5,1055.0 1748.7,1070.5 1716.3,1084.7 C1666.7,1106.4 1616.1,1126.2 1565.3,1145.1 C1523.9,1160.5 1482.2,1175.4 1440.0,1188.7 C1391.2,1204.1 1342.1,1219.2 1292.1,1229.7 C1258.3,1236.8 1224.0,1242.7 1189.7,1246.8 C1161.4,1250.2 1132.8,1253.0 1104.3,1253.6 C1075.9,1254.2 1047.3,1253.0 1019.0,1250.2 C996.1,1247.9 972.9,1246.1 950.7,1240.0 C944.8,1238.4 939.0,1236.4 933.2,1234.6 M1046.8,1304.2 C1023.2,1296.8 998.7,1291.5 976.0,1281.9 C956.3,1273.6 936.9,1263.7 918.9,1252.1 C911.6,1247.4 904.6,1242.2 897.4,1237.2 M1023.1,1408.7 C1012.6,1404.2 1001.2,1401.1 991.7,1395.1 C978.3,1386.6 968.6,1372.6 957.5,1361.0 C945.8,1348.8 933.8,1336.7 923.4,1323.4 C913.3,1310.5 904.0,1296.8 896.1,1282.4 C889.5,1270.4 885.8,1256.8 879.0,1244.9 C878.2,1243.6 877.4,1242.2 876.7,1240.9 M1023.1,1412.1 C1014.9,1408.7 1005.9,1406.5 998.5,1401.9 C987.8,1395.3 978.2,1385.1 971.2,1374.6 C965.1,1365.4 960.6,1354.6 957.5,1343.9 C954.3,1332.9 953.6,1321.1 952.4,1309.7 C950.3,1289.4 951.9,1268.7 950.7,1248.3 C949.9,1234.6 949.6,1220.8 947.3,1207.3 C945.6,1197.6 942.9,1188.1 940.5,1178.5 C936.3,1161.4 931.9,1144.2 926.8,1127.3 C921.6,1110.0 915.4,1093.1 909.7,1076.0 C904.0,1058.9 898.8,1041.7 892.7,1024.8 C888.3,1012.7 883.4,1000.8 878.8,988.8 M1054.8,1467.8 C1042.9,1464.6 1030.6,1462.5 1019.0,1458.3 C1009.7,1454.9 999.9,1451.6 991.7,1446.3 C981.1,1439.4 973.3,1428.3 964.4,1419.0 C953.8,1407.9 942.6,1397.1 933.6,1384.8 C924.3,1372.1 917.0,1357.9 909.7,1343.9 C902.2,1329.5 895.4,1314.6 889.3,1299.5 C884.3,1287.2 879.3,1274.7 875.6,1261.9 C873.7,1255.4 872.3,1248.8 870.7,1242.3 M1053.1,1519.0 C1041.7,1515.8 1030.0,1513.7 1019.0,1509.5 C1008.4,1505.4 997.5,1500.6 988.3,1494.1 C977.9,1486.8 969.2,1476.6 961.0,1466.8 C950.5,1454.3 941.7,1440.0 933.6,1425.8 C924.3,1409.5 916.8,1392.0 909.7,1374.6 C901.9,1355.7 895.5,1336.1 889.3,1316.6 C884.3,1300.8 880.0,1284.8 875.6,1268.8 C873.2,1260.0 870.8,1251.1 868.4,1242.2 M1273.0,1368.0 L1186.7,1368.0 M1286.6,1405.3 C1271.1,1402.2 1255.5,1399.3 1240.0,1396.1 C1222.5,1392.5 1205.1,1388.6 1187.6,1384.8 M1259.0,1419.0 L1190.7,1419.0 M1537.6,1381.2 C1512.5,1386.0 1487.3,1390.2 1462.3,1395.6 C1452.8,1397.7 1443.4,1399.9 1434.0,1402.1 M1538.9,1354.6 C1516.2,1350.8 1493.7,1346.1 1470.9,1343.3 C1439.6,1339.5 1408.0,1338.7 1376.5,1337.7 C1363.9,1337.3 1351.4,1336.9 1338.8,1336.9 C1307.3,1336.9 1275.8,1338.5 1244.4,1341.4 C1224.5,1343.2 1204.8,1346.1 1185.0,1348.5 M1837.9,1040.1 C1832.6,1057.5 1828.5,1075.3 1822.1,1092.3 C1813.8,1114.4 1804.2,1136.4 1791.8,1156.4 C1781.0,1173.8 1769.1,1191.8 1754.1,1205.5 C1740.9,1217.6 1724.3,1226.3 1708.8,1235.7 C1691.7,1246.0 1674.2,1256.0 1655.9,1264.0 C1638.8,1271.5 1621.1,1278.0 1603.1,1282.9 C1581.0,1288.9 1557.9,1291.6 1535.1,1294.3 C1482.7,1300.6 1429.0,1290.8 1376.5,1296.1 C1357.6,1298.0 1338.6,1300.2 1319.9,1303.7 C1295.7,1308.3 1269.7,1310.9 1248.2,1322.6 C1240.3,1326.9 1233.5,1333.6 1225.5,1337.7 C1212.5,1344.3 1197.1,1345.7 1182.9,1349.7 M1775.3,1469.1 C1704.4,1467.3 1633.4,1468.2 1562.7,1463.7 C1526.8,1461.4 1491.0,1457.3 1455.1,1454.7 C1390.2,1450.0 1324.7,1451.3 1260.0,1444.6 C1236.2,1442.2 1212.5,1438.8 1188.7,1435.9 M1777.8,1484.1 C1759.9,1486.9 1741.7,1488.6 1724.0,1492.4 C1709.5,1495.5 1695.2,1499.9 1680.8,1503.7 M1769.0,1520.3 L1681.2,1520.3 M1777.8,1556.9 L1680.9,1536.3 M1539.4,1533.6 C1513.7,1538.4 1487.8,1542.4 1462.3,1548.0 C1453.4,1549.9 1444.6,1552.0 1435.8,1554.1 M1756.0,1571.3 L1446.8,1571.3"/>
<path fill="#191970" stroke="#191970" stroke-width="1" shape-rendering="crispEdges" d="M65.8,1355.0 L69.3,1341.4 L77.4,1347.0 Z M107.5,1368.0 L120.7,1363.1 L120.7,1372.9 Z M69.0,1382.0 L81.3,1388.9 L73.8,1395.3 Z M239.8,1101.0 L238.6,1087.0 L248.1,1089.6 Z M243.0,1099.0 L246.0,1085.3 L254.3,1090.6 Z M312.9,1119.6 L325.7,1113.7 L326.4,1123.5 Z M308.0,1129.0 L321.9,1126.6 L320.1,1136.2 Z M391.5,544.0 L387.4,530.5 L397.1,531.1 Z M392.5,544.0 L387.9,530.7 L397.7,530.9 Z M394.5,544.0 L390.8,530.4 L400.6,531.3 Z M396.3,544.0 L392.8,530.4 L402.6,531.4 Z M398.0,544.0 L394.5,530.4 L404.3,531.4 Z M400.0,544.0 L397.0,530.2 L406.7,531.6 Z M404.0,544.0 L403.1,529.9 L412.5,532.8 Z M408.5,544.0 L409.9,530.0 L418.7,534.3 Z M413.0,544.0 L421.3,532.6 L426.7,540.8 Z M425.0,545.5 L436.3,537.1 L439.0,546.6 Z M424.6,557.5 L437.8,552.6 L437.8,562.4 Z M425.5,570.8 L439.6,570.9 L436.1,580.1 Z M405.0,572.0 L416.7,579.8 L408.8,585.6 Z M401.0,572.0 L411.6,581.3 L402.9,585.9 Z M398.0,572.0 L404.6,584.4 L394.9,585.7 Z M396.0,572.0 L402.9,584.3 L393.2,585.8 Z M394.0,572.0 L400.2,584.6 L390.5,585.6 Z M395.0,572.0 L401.8,584.3 L392.1,585.8 Z M392.0,572.0 L397.7,584.9 L387.9,585.5 Z M390.0,572.0 L395.7,584.9 L385.9,585.5 Z M720.8,129.2 L734.3,125.4 L733.6,135.1 Z M914.4,152.5 L928.4,151.2 L925.9,160.7 Z M906.0,265.5 L917.1,256.8 L920.1,266.2 Z M740.2,296.5 L752.7,290.0 L753.9,299.7 Z M884.2,292.7 L897.7,296.8 L891.7,304.6 Z M727.0,696.5 L731.6,683.2 L739.2,689.4 Z M556.8,555.7 L569.2,549.0 L570.5,558.7 Z M556.8,566.3 L570.8,564.9 L568.3,574.4 Z M557.7,567.8 L571.8,567.1 L568.8,576.4 Z M573.5,621.8 L587.6,621.8 L584.2,631.0 Z M547.5,621.7 L559.5,629.1 L551.7,635.1 Z M700.2,520.5 L712.0,528.3 L704.0,534.0 Z M882.6,619.0 L890.1,607.1 L896.1,614.9 Z M892.5,618.5 L902.9,609.1 L906.6,618.2 Z M892.5,629.2 L905.2,623.1 L906.1,632.8 Z M892.5,634.7 L905.9,630.5 L905.4,640.3 Z M722.0,696.5 L731.4,686.0 L736.0,694.7 Z M691.3,723.8 L700.6,734.3 L691.5,737.9 Z M574.4,797.5 L580.6,784.9 L587.4,792.0 Z M577.7,795.9 L582.3,782.6 L589.9,788.8 Z M565.3,850.2 L571.2,837.4 L578.1,844.4 Z M564.6,851.9 L576.4,844.2 L578.6,853.8 Z M566.2,824.9 L580.2,826.4 L575.9,835.2 Z M576.7,963.5 L589.9,958.6 L589.9,968.4 Z M564.0,977.0 L578.0,978.8 L573.4,987.5 Z M1388.1,659.2 L1401.3,654.3 L1401.3,664.1 Z M1388.0,659.5 L1401.5,655.5 L1400.8,665.3 Z M1641.3,673.0 L1655.3,674.3 L1651.1,683.1 Z M1622.1,673.0 L1633.7,681.0 L1625.6,686.6 Z M910.0,810.5 L920.3,800.9 L924.1,809.9 Z M875.0,1203.5 L879.8,1190.3 L887.3,1196.6 Z M1152.5,469.5 L1166.6,469.1 L1163.4,478.4 Z M1161.0,467.0 L1175.1,466.9 L1171.8,476.1 Z M1161.0,465.0 L1174.9,462.8 L1173.0,472.4 Z M913.5,1229.5 L927.4,1227.2 L925.5,1236.8 Z M932.5,822.0 L945.7,817.1 L945.7,826.9 Z M932.0,835.0 L945.8,832.3 L944.3,841.9 Z M888.0,837.5 L901.8,840.3 L896.6,848.6 Z M876.0,837.5 L887.1,846.2 L878.7,851.3 Z M885.0,949.0 L893.1,937.5 L898.7,945.6 Z M923.5,952.0 L935.0,943.8 L937.5,953.3 Z M869.4,1203.5 L869.7,1189.4 L878.8,1193.0 Z M923.5,967.0 L937.0,962.9 L936.4,972.7 Z M872.0,977.0 L884.8,982.8 L877.9,989.8 Z M927.4,1203.5 L938.1,1194.3 L941.5,1203.5 Z M904.6,1203.5 L914.2,1193.2 L918.6,1201.9 Z M921.0,1229.5 L935.1,1230.1 L931.3,1239.1 Z M886.6,1229.7 L900.2,1233.2 L894.7,1241.2 Z M870.0,1229.5 L880.9,1238.4 L872.4,1243.4 Z M874.0,976.5 L883.3,987.0 L874.2,990.6 Z M867.5,1229.5 L875.5,1241.1 L865.9,1243.5 Z M865.0,1229.5 L873.2,1241.0 L863.7,1243.5 Z M1173.5,1368.0 L1186.7,1363.1 L1186.7,1372.9 Z M1174.7,1382.0 L1188.6,1380.0 L1186.6,1389.6 Z M1177.5,1419.0 L1190.7,1414.1 L1190.7,1423.9 Z M1421.1,1405.0 L1432.9,1397.3 L1435.1,1406.8 Z M1173.5,1355.0 L1182.5,1344.2 L1187.4,1352.7 Z M1170.8,1355.0 L1180.9,1345.2 L1184.9,1354.2 Z M1176.0,1432.5 L1190.0,1431.2 L1187.5,1440.7 Z M1668.0,1507.0 L1679.5,1498.9 L1682.0,1508.4 Z M1668.0,1520.3 L1681.2,1515.4 L1681.2,1525.2 Z M1668.0,1533.6 L1681.9,1531.5 L1679.9,1541.1 Z M1422.9,1557.0 L1434.7,1549.3 L1436.9,1558.8 Z M1433.6,1571.3 L1446.8,1566.4 L1446.8,1576.2 Z"/>
<g style="filter:grayscale(1)">
<text x="54.80" y="1373.4" text-anchor="middle" textLength="78.79" lengthAdjust="spacingAndGlyphs">hash_map.h</text>
<text x="232.30" y="1119.9" text-anchor="middle" textLength="133.85" lengthAdjust="spacingAndGlyphs">compat_hash_map.h</text>
<text x="391.30" y="562.9" text-anchor="middle" textLength="38.24" lengthAdjust="spacingAndGlyphs">expr.h</text>
<text x="530.30" y="157.4" text-anchor="middle" textLength="89.87" lengthAdjust="spacingAndGlyphs">translator.cpp</text>
<text x="687.30" y="131.9" text-anchor="middle" textLength="40.88" lengthAdjust="spacingAndGlyphs">type.h</text>
<text x="862.80" y="143.9" text-anchor="middle" textLength="82.08" lengthAdjust="spacingAndGlyphs">expr_value.h</text>
<text x="1098.80" y="207.9" text-anchor="middle" textLength="104.19" lengthAdjust="spacingAndGlyphs">expr_manager.h</text>
<text x="862.80" y="283.9" text-anchor="middle" textLength="75.68" lengthAdjust="spacingAndGlyphs">expr_map.h</text>
<text x="687.30" y="309.4" text-anchor="middle" textLength="79.05" lengthAdjust="spacingAndGlyphs">expr_hash.h</text>
<text x="1099.30" y="461.4" text-anchor="middle" textLength="96.49" lengthAdjust="spacingAndGlyphs">cnf_manager.h</text>
<text x="687.30" y="511.9" text-anchor="middle" textLength="64.73" lengthAdjust="spacingAndGlyphs">variable.h</text>
<text x="530.30" y="562.9" text-anchor="middle" textLength="26.47" lengthAdjust="spacingAndGlyphs">vc.h</text>
<text x="529.80" y="613.4" text-anchor="middle" textLength="92.43" lengthAdjust="spacingAndGlyphs">expr_stream.h</text>
<text x="686.30" y="613.4" text-anchor="middle" textLength="60.83" lengthAdjust="spacingAndGlyphs">main.cpp</text>
<text x="1098.80" y="562.9" text-anchor="middle" textLength="45.60" lengthAdjust="spacingAndGlyphs">cnf.cpp</text>
<text x="1098.80" y="613.4" text-anchor="middle" textLength="96.02" lengthAdjust="spacingAndGlyphs">dpllt_basic.cpp</text>
<text x="862.80" y="638.9" text-anchor="middle" textLength="31.73" lengthAdjust="spacingAndGlyphs">cnf.h</text>
<text x="687.80" y="663.9" text-anchor="middle" textLength="76.32" lengthAdjust="spacingAndGlyphs">vc_cmd.cpp</text>
<text x="1353.80" y="663.9" text-anchor="middle" textLength="40.39" lengthAdjust="spacingAndGlyphs">dpllt.h</text>
<text x="1601.80" y="663.9" text-anchor="middle" textLength="81.23" lengthAdjust="spacingAndGlyphs">search_sat.h</text>
<text x="687.80" y="714.9" text-anchor="middle" textLength="66.66" lengthAdjust="spacingAndGlyphs">theorem.h</text>
<text x="530.30" y="714.9" text-anchor="middle" textLength="62.98" lengthAdjust="spacingAndGlyphs">expr_op.h</text>
<text x="1354.30" y="714.9" text-anchor="middle" textLength="110.36" lengthAdjust="spacingAndGlyphs">cnf_manager.cpp</text>
<text x="528.80" y="765.4" text-anchor="middle" textLength="94.92" lengthAdjust="spacingAndGlyphs">parser_temp.h</text>
<text x="1839.80" y="765.4" text-anchor="middle" textLength="97.10" lengthAdjust="spacingAndGlyphs">search_sat.cpp</text>
<text x="530.30" y="815.9" text-anchor="middle" textLength="61.43" lengthAdjust="spacingAndGlyphs">vc_cmd.h</text>
<text x="863.30" y="829.4" text-anchor="middle" textLength="111.63" lengthAdjust="spacingAndGlyphs">expr_transform.h</text>
<text x="528.80" y="866.9" text-anchor="middle" textLength="45.54" lengthAdjust="spacingAndGlyphs">proof.h</text>
<text x="1099.80" y="866.9" text-anchor="middle" textLength="101.16" lengthAdjust="spacingAndGlyphs">search_fast.cpp</text>
<text x="1098.80" y="917.4" text-anchor="middle" textLength="142.69" lengthAdjust="spacingAndGlyphs">search_impl_base.cpp</text>
<text x="529.30" y="967.9" text-anchor="middle" textLength="68.87" lengthAdjust="spacingAndGlyphs">notifylist.h</text>
<text x="686.30" y="967.9" text-anchor="middle" textLength="54.55" lengthAdjust="spacingAndGlyphs">expr.cpp</text>
<text x="862.80" y="967.9" text-anchor="middle" textLength="94.98" lengthAdjust="spacingAndGlyphs">assumptions.h</text>
<text x="1840.30" y="1031.9" text-anchor="middle" textLength="45.67" lengthAdjust="spacingAndGlyphs">vcl.cpp</text>
<text x="1098.80" y="1119.9" text-anchor="middle" textLength="103.38" lengthAdjust="spacingAndGlyphs">theory_core.cpp</text>
<text x="1100.30" y="1170.9" text-anchor="middle" textLength="108.73" lengthAdjust="spacingAndGlyphs">theorem_value.h</text>
<text x="862.80" y="1221.4" text-anchor="middle" textLength="129.83" lengthAdjust="spacingAndGlyphs">theorem_manager.h</text>
<text x="1099.30" y="1322.9" text-anchor="middle" textLength="195.20" lengthAdjust="spacingAndGlyphs">search_theorem_producer.cpp</text>
<text x="1098.80" y="1373.4" text-anchor="middle" textLength="123.42" lengthAdjust="spacingAndGlyphs">theory_arith_new.h</text>
<text x="1353.30" y="1373.4" text-anchor="middle" textLength="137.34" lengthAdjust="spacingAndGlyphs">theory_arith_new.cpp</text>
<text x="1601.80" y="1373.4" text-anchor="middle" textLength="182.71" lengthAdjust="spacingAndGlyphs">arith_theorem_producer.cpp</text>
<text x="1098.80" y="1423.9" text-anchor="middle" textLength="130.52" lengthAdjust="spacingAndGlyphs">theorem_producer.h</text>
<text x="1353.80" y="1423.9" text-anchor="middle" textLength="167.83" lengthAdjust="spacingAndGlyphs">arith_theorem_producer.h</text>
<text x="1098.80" y="1474.9" text-anchor="middle" textLength="67.81" lengthAdjust="spacingAndGlyphs">theory.cpp</text>
<text x="1840.30" y="1474.9" text-anchor="middle" textLength="110.49" lengthAdjust="spacingAndGlyphs">dpllt_minisat.cpp</text>
<text x="1098.80" y="1525.4" text-anchor="middle" textLength="70.78" lengthAdjust="spacingAndGlyphs">search.cpp</text>
<text x="1601.80" y="1525.4" text-anchor="middle" textLength="105.14" lengthAdjust="spacingAndGlyphs">minisat_solver.h</text>
<text x="1839.30" y="1525.4" text-anchor="middle" textLength="120.01" lengthAdjust="spacingAndGlyphs">minisat_solver.cpp</text>
<text x="1353.30" y="1575.9" text-anchor="middle" textLength="133.21" lengthAdjust="spacingAndGlyphs">minisat_derivation.h</text>
<text x="1840.30" y="1575.9" text-anchor="middle" textLength="147.13" lengthAdjust="spacingAndGlyphs">minisat_derivation.cpp</text>
</g>
</svg></body></html>
